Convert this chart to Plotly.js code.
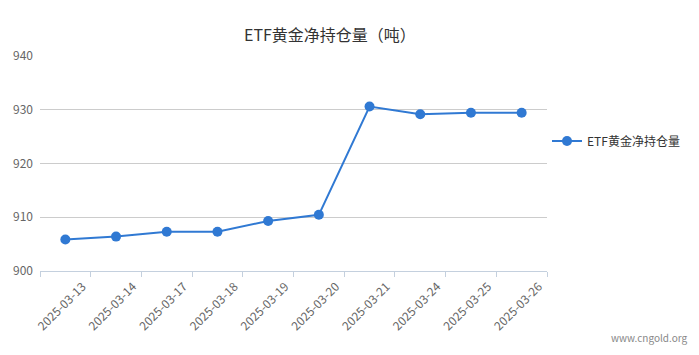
<!DOCTYPE html>
<html>
<head>
<meta charset="utf-8">
<script src="https://cdn.plot.ly/plotly-3.0.1.min.js"></script>
<style>html,body{margin:0;padding:0;background:#fff;}#chart{width:699px;height:355px;}</style>
</head>
<body>
<div id="chart"></div>
<script>
const dates = ["2025-03-13","2025-03-14","2025-03-17","2025-03-18","2025-03-19","2025-03-20","2025-03-21","2025-03-24","2025-03-25","2025-03-26"];
const holdings = [905.85, 906.4, 907.3, 907.3, 909.3, 910.45, 930.6, 929.15, 929.45, 929.45];
const seriesName = "ETF黄金净持仓量";
const chartTitle = "ETF黄金净持仓量（吨）";

const font = '"Noto Sans CJK SC", "Noto Sans", sans-serif';
const trace = {
  type: 'scatter', mode: 'lines+markers', name: seriesName,
  x: dates, y: holdings,
  line: {color: '#3079d3', width: 2},
  marker: {color: '#3079d3', size: 10}
};
const layout = {
  width: 699, height: 355,
  margin: {l: 40, r: 152, t: 56, b: 84},
  paper_bgcolor: '#fff', plot_bgcolor: '#fff',
  font: {family: font, color: '#666', size: 12},
  title: {text: chartTitle, x: 0.472, xref: 'container', xanchor: 'center', y: 0.9, yref: 'container', yanchor: 'middle', font: {size: 16, color: '#333', family: font}},
  xaxis: {
    type: 'category', tickangle: -45, tickson: 'boundaries',
    range: [-0.5, dates.length - 0.5], autorange: false,
    ticks: 'outside', ticklen: 5, tickcolor: '#c4d0de',
    showline: true, linecolor: '#c4d0de', linewidth: 1,
    showgrid: false, ticklabelshift: 17, ticklabelstandoff: 3,
    tickfont: {size: 12, color: '#666'}, fixedrange: true
  },
  yaxis: {
    range: [900, 940], dtick: 10, tick0: 900,
    showgrid: true, gridcolor: '#cccccc', gridwidth: 1,
    zeroline: false, showline: false, ticks: '',
    tickfont: {size: 12, color: '#666'}, ticklabelstandoff: 6
  },
  showlegend: true,
  legend: {x: 1.0, xanchor: 'left', y: 0.605, yanchor: 'middle', font: {size: 12, color: '#333'}, bgcolor: 'rgba(0,0,0,0)'},
  annotations: [{text: 'www.cngold.org', xref: 'paper', yref: 'paper', x: 1.282, y: -0.307, xanchor: 'right', yanchor: 'middle', showarrow: false, font: {size: 10, color: '#888'}}]
};
Plotly.newPlot('chart', [trace], layout, {displayModeBar: false, staticPlot: true});
</script>
</body>
</html>
